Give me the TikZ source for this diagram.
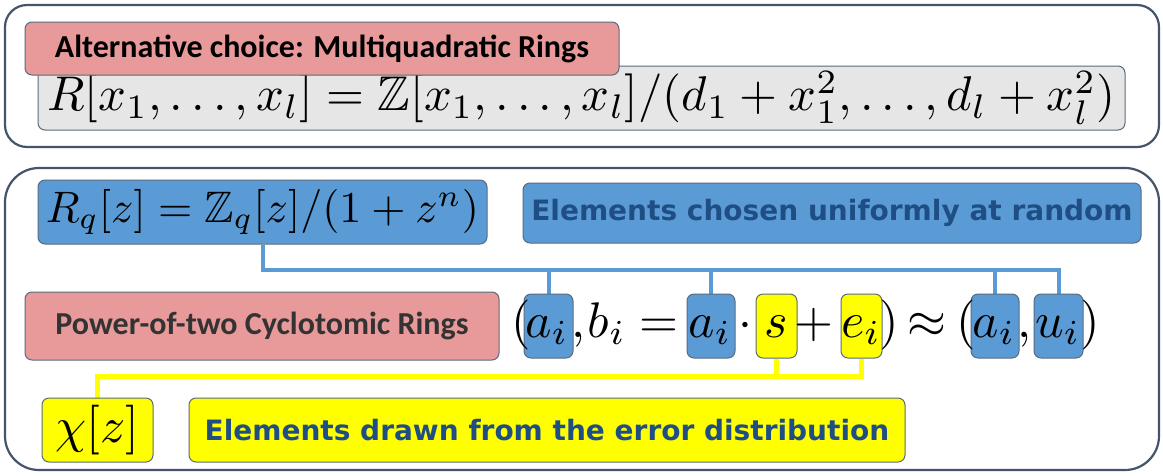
\documentclass[tikz,border=0pt]{standalone}
\usepackage{fontspec}
\usepackage{amssymb}
\usepackage{graphicx}
\usetikzlibrary{backgrounds}
\newfontfamily\calfont{Carlito}
\newfontfamily\verdfont{DejaVu Sans}
\definecolor{frameC}{HTML}{44546A}
\definecolor{edgeC}{HTML}{5A6B7D}
\definecolor{pinkC}{HTML}{E8999A}
\definecolor{blueC}{HTML}{5B9BD5}
\definecolor{yelC}{HTML}{FFFF00}
\definecolor{greyC}{HTML}{E6E6E6}
\definecolor{dblue}{HTML}{1F4E85}
\definecolor{dgray}{HTML}{333333}
\begin{document}
\begin{tikzpicture}[x=1pt,y=-1pt,
  frame/.style={draw=frameC, line width=2.2pt},
  box/.style={draw=edgeC, line width=1pt, rounded corners=7pt, inner sep=0pt},
  pinkbox/.style={box, fill=pinkC},
  bluebox/.style={box, fill=blueC},
  yelbox/.style={box, fill=yelC},
  greybox/.style={box, fill=greyC},
  eq/.style={anchor=base, inner sep=0pt},
  bline/.style={draw=blueC, line width=4pt},
  yline/.style={draw=yelC, line width=4.5pt},
  pinktext/.style={font=\calfont\bfseries\fontsize{32}{36}\selectfont},
  bluetext/.style={font=\verdfont\bfseries\fontsize{28}{32}\selectfont, text=dblue}
  ]
\useasboundingbox (0,0) rectangle (1163,475);
\begin{scope}[on background layer]
  \fill[white] (0,0) rectangle (1163,475);
\end{scope}
% frames
\draw[frame, rounded corners=22pt] (5,5) rectangle (1159,147);
\draw[frame, rounded corners=34pt] (5,168) rectangle (1159,470);

% top section
\node[greybox, minimum width=1087pt, minimum height=64pt] (grey) at (581.5,98)
  {\resizebox{1068pt}{!}{$R[x_1,\ldots,x_l]=\mathbb{Z}[x_1,\ldots,x_l]/(d_1+x_1^2,\ldots,d_l+x_l^2)$}};
\node[pinkbox, pinktext, minimum width=594pt, minimum height=53pt] (alt) at (322,48.5)
  {Alternative choice: Multiquadratic Rings};

% bottom section
\node[bluebox, minimum width=449pt, minimum height=64pt] (rq) at (262.5,212)
  {\resizebox{433pt}{!}{$R_q[z]=\mathbb{Z}_q[z]/(1+z^n)$}};
\node[bluebox, bluetext, minimum width=618pt, minimum height=60pt] (chosen) at (832,213)
  {Elements chosen uniformly at random};
\node[pinkbox, font=\calfont\bfseries\fontsize{32}{36}\selectfont, text=dgray, minimum width=474pt, minimum height=68pt] (pow) at (262,326)
  {Power-of-two Cyclotomic Rings};
\node[yelbox, minimum width=111pt, minimum height=64pt] (chi) at (97.5,430)
  {\resizebox{84pt}{!}{$\chi[z]$}};
\node[yelbox, bluetext, minimum width=716pt, minimum height=64pt] (drawn) at (547,430)
  {Elements drawn from the error distribution};

% highlight boxes in the equation
\node[bluebox, minimum width=49pt, minimum height=64pt] (a1) at (548.5,326) {};
\node[bluebox, minimum width=48pt, minimum height=64pt] (a2) at (711,326) {};
\node[yelbox, minimum width=41pt, minimum height=64pt] (s) at (776.5,326) {};
\node[yelbox, minimum width=41pt, minimum height=64pt] (e) at (861.5,326) {};
\node[bluebox, minimum width=48pt, minimum height=64pt] (a3) at (995,326) {};
\node[bluebox, minimum width=49pt, minimum height=64pt] (u) at (1058.5,326) {};

% equation pieces
\node[eq] (p1) at (521,337) {\scalebox{5}{$($}};
\node[eq] (ta1) at (547,337) {\scalebox{5}{$a_i$}};
\node[eq] (c1) at (578,337) {\scalebox{5}{$,$}};
\node[eq] (tb) at (607,337) {\scalebox{5}{$b_i$}};
\node[eq] (eqs) at (659,337) {\scalebox{5}{$=$}};
\node[eq] (ta2) at (710,337) {\scalebox{5}{$a_i$}};
\node[eq] (dot) at (745,337) {\scalebox{5}{$\cdot$}};
\node[eq] (ts) at (776.5,337) {\scalebox{5}{$s$}};
\node[eq] (pl) at (814,337) {\scalebox{5}{$+$}};
\node[eq] (te) at (861,337) {\scalebox{5}{$e_i$}};
\node[eq] (p2) at (889,337) {\scalebox{5}{$)$}};
\node[eq] (ap) at (927,337) {\scalebox{5}{$\approx$}};
\node[eq] (p3) at (966,337) {\scalebox{5}{$($}};
\node[eq] (ta3) at (994,337) {\scalebox{5}{$a_i$}};
\node[eq] (c2) at (1024,337) {\scalebox{5}{$,$}};
\node[eq] (tu) at (1058,337) {\scalebox{5}{$u_i$}};
\node[eq] (p4) at (1090,337) {\scalebox{5}{$)$}};

% connectors
\begin{scope}[on background layer]
  \draw[bline] (rq.south) -- ++(0,25) -| (u.north);
  \draw[bline] (a1.north) -- ++(0,-25);
  \draw[bline] (a2.north) -- ++(0,-25);
  \draw[bline] (a3.north) -- ++(0,-25);
  \draw[yline] (chi.north) -- ++(0,-21) -| (e.south);
  \draw[yline] (s.south) -- ++(0,19);
\end{scope}
\end{tikzpicture}
\end{document}
